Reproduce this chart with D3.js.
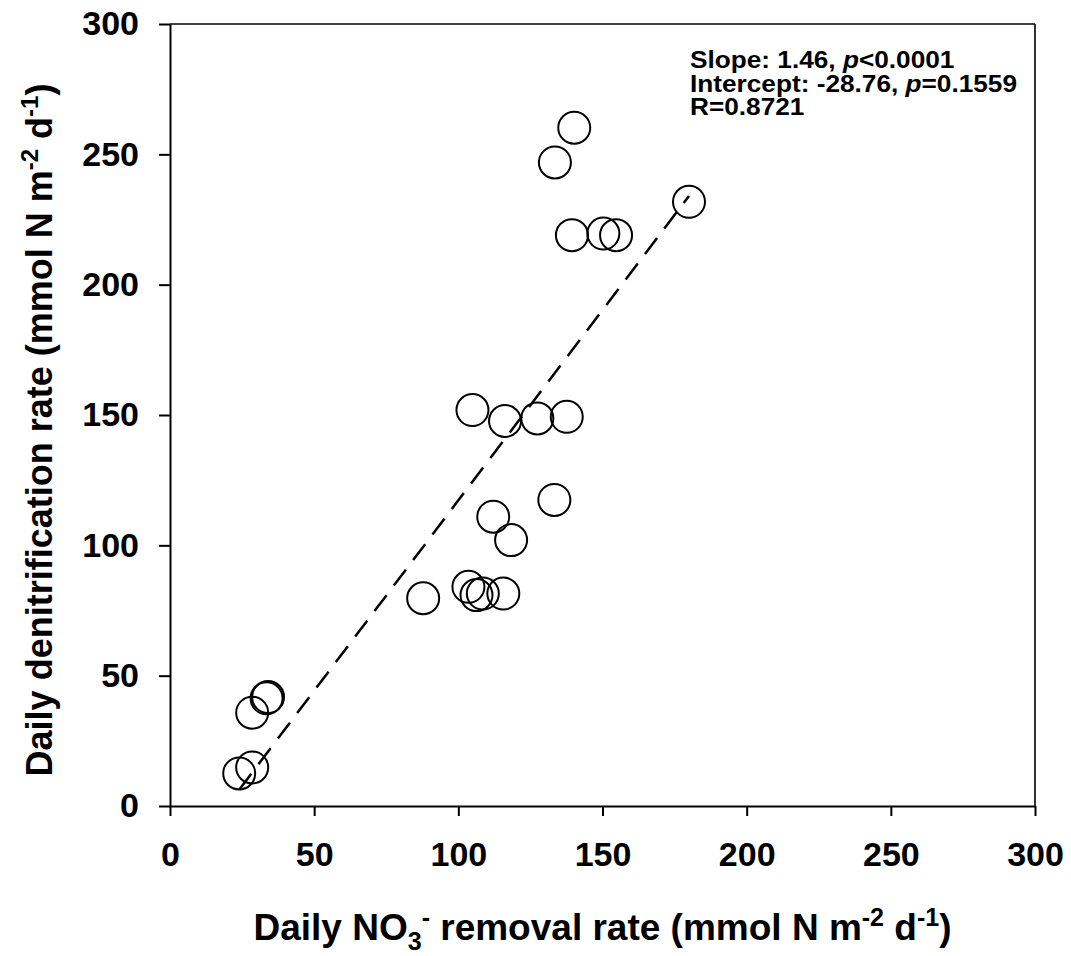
<!DOCTYPE html>
<html>
<head>
<meta charset="utf-8">
<script src="https://cdn.jsdelivr.net/npm/d3@7"></script>
<style>
  body { margin: 0; background: #fff; }
  svg { display: block; font-family: "Liberation Sans", Arial, sans-serif; }
  .axis path, .axis line { stroke: #000; stroke-width: 2; }
  .axis text { font-size: 34px; font-weight: bold; fill: #000; }
  .title { font-size: 37px; font-weight: bold; fill: #000; }
  .stats { font-size: 24.5px; font-weight: bold; fill: #000; }
</style>
</head>
<body>
<div id="chart"></div>
<script>
// Daily NO3- removal rate (x) vs daily denitrification rate (y)
const removalRate = [140.2, 133.5, 180.0, 139.4, 150.3, 154.7, 104.9, 116.2, 127.4, 137.6,
                     133.3, 112.1, 118.3, 87.8, 103.5, 106.3, 108.5, 115.6, 33.5, 34.0,
                     28.5, 28.5, 24.0];
const denitRate   = [260.2, 246.9, 231.8, 219.0, 219.6, 219.0, 151.9, 147.7, 148.7, 149.3,
                     117.4, 111.0, 102.0, 79.7, 84.1, 80.9, 81.5, 81.5, 41.3, 41.8,
                     35.8, 14.8, 12.5];
const xTicks = [0, 50, 100, 150, 200, 250, 300];
const yTicks = [0, 50, 100, 150, 200, 250, 300];
const fitSlope = 1.46;
const fitIntercept = -28.76;
const statLines = [
  ["Slope: 1.46, ", "p", "<0.0001"],
  ["Intercept: -28.76, ", "p", "=0.1559"],
  ["R=0.8721", "", ""],
];

const width = 1071, height = 956;
const margin = { top: 24, right: 36, bottom: 150, left: 170 };
const innerW = width - margin.left - margin.right;
const innerH = height - margin.top - margin.bottom;

const svg = d3.select("#chart").append("svg")
  .attr("width", width).attr("height", height);
const g = svg.append("g").attr("transform", `translate(${margin.left},${margin.top})`);

const x = d3.scaleLinear().domain([0, 300]).range([0, innerW]);
const y = d3.scaleLinear().domain([0, 300]).range([innerH, 0]);

// cadre (haut + droite)
g.append("line").attr("x1", 0).attr("x2", innerW).attr("y1", 0).attr("y2", 0)
  .attr("stroke", "#000").attr("stroke-width", 1.6);
g.append("line").attr("x1", innerW).attr("x2", innerW).attr("y1", 0).attr("y2", innerH)
  .attr("stroke", "#000").attr("stroke-width", 1.6);

// axes
g.append("g").attr("class", "axis")
  .attr("transform", `translate(0,${innerH})`)
  .call(d3.axisBottom(x).tickValues(xTicks).tickSize(10).tickPadding(26).tickSizeOuter(0));
g.append("g").attr("class", "axis")
  .call(d3.axisLeft(y).tickValues(yTicks).tickSize(11).tickPadding(20).tickSizeOuter(0));

// droite de régression
const xMin = d3.min(removalRate), xMax = d3.max(removalRate);
g.append("line")
  .attr("x1", x(xMin)).attr("y1", y(fitSlope * xMin + fitIntercept))
  .attr("x2", x(xMax)).attr("y2", y(fitSlope * xMax + fitIntercept))
  .attr("stroke", "#000").attr("stroke-width", 2.5)
  .attr("stroke-dasharray", "20 12");

// points
g.append("g").selectAll("circle")
  .data(removalRate.map((v, i) => [v, denitRate[i]]))
  .join("circle")
    .attr("cx", d => x(d[0]))
    .attr("cy", d => y(d[1]))
    .attr("r", 16)
    .attr("fill", "none")
    .attr("stroke", "#000")
    .attr("stroke-width", 2);

// statistiques (légèrement élargies horizontalement)
const statG = svg.append("g").attr("transform", "translate(690,0) scale(1.07,1)");
statLines.forEach((ln, i) => {
  const t = statG.append("text").attr("class", "stats").attr("x", 0).attr("y", 68.5 + i * 23.2);
  t.append("tspan").text(ln[0]);
  if (ln[1]) t.append("tspan").attr("font-style", "italic").text(ln[1]);
  if (ln[2]) t.append("tspan").text(ln[2]);
});

// titre x
const xt = svg.append("text").attr("class", "title")
  .attr("x", margin.left + innerW / 2).attr("y", 940).attr("text-anchor", "middle");
xt.append("tspan").text("Daily NO");
xt.append("tspan").attr("font-size", "25px").attr("dy", 10).text("3");
xt.append("tspan").attr("font-size", "25px").attr("dy", -24).text("-");
xt.append("tspan").attr("dy", 14).text(" removal rate (mmol N m");
xt.append("tspan").attr("font-size", "25px").attr("dy", -14).text("-2");
xt.append("tspan").attr("dy", 14).text(" d");
xt.append("tspan").attr("font-size", "25px").attr("dy", -14).text("-1");
xt.append("tspan").attr("dy", 14).text(")");

// titre y
const yt = svg.append("text").attr("class", "title")
  .style("font-size", "36px")
  .attr("transform", `translate(52,430) rotate(-90)`)
  .attr("text-anchor", "middle");
yt.append("tspan").text("Daily denitrification rate (mmol N m");
yt.append("tspan").attr("font-size", "24px").attr("dy", -14).text("-2");
yt.append("tspan").attr("dy", 14).text(" d");
yt.append("tspan").attr("font-size", "24px").attr("dy", -14).text("-1");
yt.append("tspan").attr("dy", 14).text(")");
</script>
</body>
</html>
